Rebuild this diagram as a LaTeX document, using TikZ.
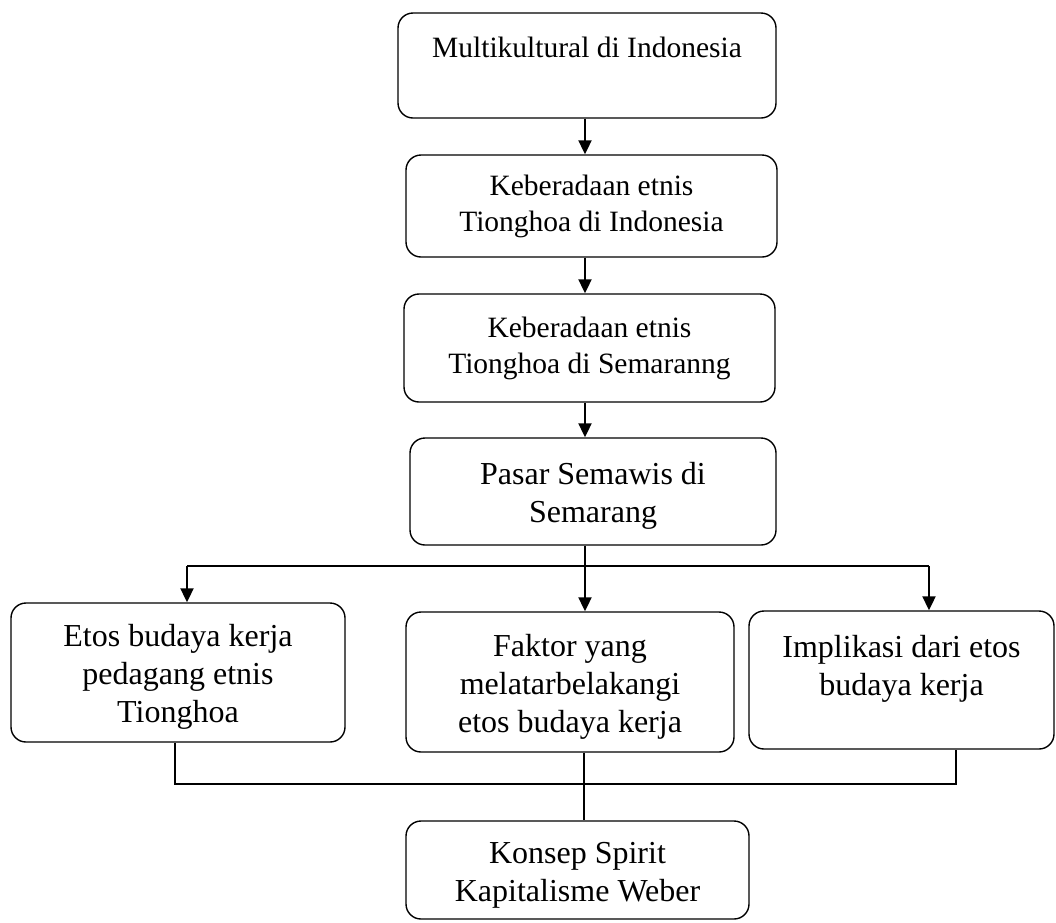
\documentclass[tikz,border=0pt]{standalone}
\usepackage{fontspec}
\setmainfont{Liberation Serif}
\usetikzlibrary{arrows.meta}
\usetikzlibrary{calc}
\usetikzlibrary{positioning}

\newcommand{\topgap}{\rule{0pt}{31pt}}

\begin{document}
\begin{tikzpicture}[x=1pt,y=-1pt,>={Triangle[length=14pt,width=13pt]},
    main node/.style={rectangle,draw,rounded corners=15pt,line width=1.4pt,align=center,inner sep=0pt},
    small text/.style={font=\fontsize{29.5}{36}\selectfont},
    big text/.style={font=\fontsize{32}{38}\selectfont},
    arrow line/.style={->,line width=2pt},
    plain line/.style={line width=1.3pt}]

    \useasboundingbox (0,0) rectangle (1056,922);

    \node[main node,small text,minimum width=378pt,minimum height=105pt] (multikultural) at (587,65.5) {Multikultural di Indonesia\\~};
    \node[main node,small text,minimum width=371pt,minimum height=102pt,on grid,below=140.5pt of multikultural,xshift=4.5pt] (etnis-indonesia) {Keberadaan etnis\\Tionghoa di Indonesia};
    \node[main node,small text,minimum width=371pt,minimum height=108pt,on grid,below=142pt of etnis-indonesia,xshift=-2pt] (etnis-semarang) {Keberadaan etnis\\Tionghoa di Semaranng};
    \node[main node,big text,minimum width=366pt,minimum height=107pt,on grid,below=143.5pt of etnis-semarang,xshift=3.5pt] (pasar) {\topgap Pasar Semawis di\\Semarang};
    \node[main node,big text,minimum width=328pt,minimum height=140pt,on grid,below=190.5pt of pasar,xshift=-23pt] (faktor) {\topgap Faktor yang\\melatarbelakangi\\etos budaya kerja};
    \node[main node,big text,minimum width=334pt,minimum height=139pt,on grid,left=392pt of faktor,yshift=9.5pt] (etos) {\topgap Etos budaya kerja\\pedagang etnis\\Tionghoa};
    \node[main node,big text,minimum width=305pt,minimum height=138pt,on grid,right=331.5pt of faktor,yshift=2pt] (implikasi) {\topgap Implikasi dari etos\\budaya kerja\\~};
    \node[main node,big text,minimum width=343pt,minimum height=98pt,on grid,below=188pt of faktor,xshift=7.5pt] (weber) {\topgap Konsep Spirit\\Kapitalisme Weber};

    % spine and branch points
    \coordinate (spine) at (585,0);
    \coordinate (fork) at (585,566);
    \coordinate (fork-left) at (187,566);
    \coordinate (fork-right) at (929,566);
    \coordinate (join-left) at (175,784);
    \coordinate (join-right) at (956,784);
    \coordinate (join-mid) at (584,784);

    \draw[arrow line] (spine |- multikultural.south) -- (spine |- etnis-indonesia.north);
    \draw[arrow line] (spine |- etnis-indonesia.south) -- (spine |- etnis-semarang.north);
    \draw[arrow line] (spine |- etnis-semarang.south) -- (spine |- pasar.north);
    \draw[arrow line] (spine |- pasar.south) -- (spine |- faktor.north);

    \draw[plain line] (fork-left) -- (fork-right);
    \draw[arrow line] (fork-left) -- (fork-left |- etos.north);
    \draw[arrow line] (fork-right) -- (fork-right |- implikasi.north);

    \draw[plain line]
    (join-left |- etos.south)
    -- (join-left)
    -- (join-right)
    -- (join-right |- implikasi.south);

    \draw[plain line] (join-mid |- faktor.south) -- (join-mid |- weber.north);

\end{tikzpicture}
\end{document}
